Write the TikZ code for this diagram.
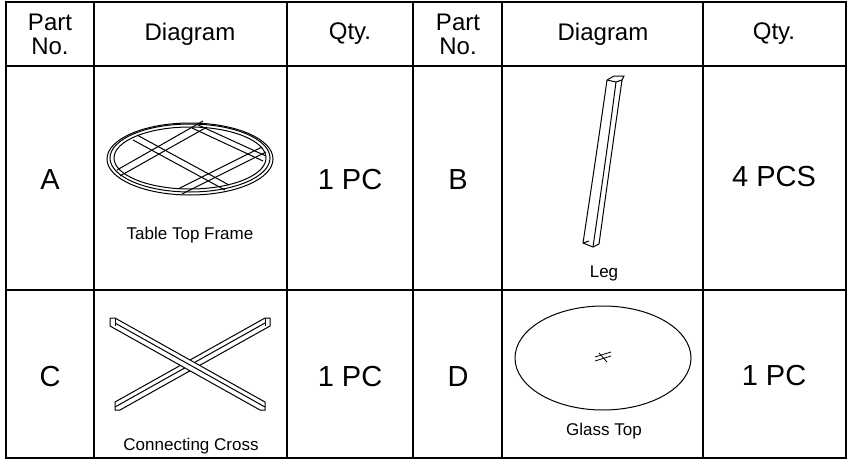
\documentclass[tikz,border=0pt]{standalone}
\usepackage{fontspec}
\setmainfont{Liberation Sans}
\begin{document}
\begin{tikzpicture}[x=1pt,y=-1pt,
  grid/.style={line width=1.6pt},
  hd/.style={font=\fontsize{24}{24}\selectfont,align=center},
  big/.style={font=\fontsize{29}{30}\selectfont},
  captxt/.style={font=\fontsize{17}{18}\selectfont},
  part/.style={line width=1pt}]
\useasboundingbox (0,0) rectangle (849,461);
\draw[grid] (6,2) rectangle (846,458);
\foreach \x in {94,287,413,502,703} \draw[grid] (\x,2) -- (\x,458);
\draw[grid] (6,66) -- (846,66);
\draw[grid] (6,290) -- (846,290);
% headers
\node[hd] (h1) at (50,34) {Part\\No.};
\node[hd] (h2) at (190,34) {Diagram};
\node[hd] (h3) at (350,34) {Qty.};
\node[hd] (h4) at (458,34) {Part\\No.};
\node[hd] (h5) at (603,34) {Diagram};
\node[hd] (h6) at (774,34) {Qty.};
% row 1
\node[big] (pa) at (50,180) {A};
\node[big] (qa) at (350,180) {1 PC};
\node[big] (pb) at (458,180) {B};
\node[big] (qb) at (774,177) {4 PCS};
\node[captxt] (ca) at (190,235) {Table Top Frame};
\node[captxt] (cb) at (604,273) {Leg};
% row 2
\node[big] (pc) at (50,377) {C};
\node[big] (qc) at (350,377) {1 PC};
\node[big] (pd) at (458,377) {D};
\node[big] (qd) at (774,376) {1 PC};
\node[captxt] (cc) at (191,446) {Connecting Cross};
\node[captxt] (cd) at (604,431) {Glass Top};
% A: frame
\draw[part] (190,159) ellipse (83 and 36);
\draw[part] (190,158) ellipse (80 and 34);
\draw[part] (190,158) ellipse (76 and 31);
% up-right bars
\draw[part] (117,170) -- (203,121);
\draw[part] (120,176) -- (207,127);
\draw[part] (178,189) -- (262,147);
\draw[part] (182,194) -- (266,152);
% down-right bars
\draw[part] (133,140) -- (225,190);
\draw[part] (137,135) -- (229,185);
\draw[part] (192,128) -- (263,161);
\draw[part] (196,124) -- (266,156);
% B: leg
\begin{scope}[part]
\draw (607,80) .. controls (597,150) .. (583,243) -- (593,247) .. controls (607,150) .. (616,82);
\draw (616,82) -- (622,80) .. controls (612,150) .. (599,244) -- (593,247);
\draw (583,243) -- (589,241);
\draw (607,80) -- (614,76) -- (624,76) -- (622,80);
\draw (616,82) -- (607,80);
\end{scope}
% C: cross
\begin{scope}[part]
\draw[fill=white] (265,318) -- (115,402) -- (115,410) -- (120,410) -- (270,326) -- (270,318) -- cycle;
\draw (265,323) -- (115,407);
\draw (265,318) -- (265,326);
\draw[fill=white] (115,318) -- (265,402) -- (265,410) -- (260,410) -- (110,326) -- (110,318) -- cycle;
\draw (115,323) -- (265,407);
\draw (115,318) -- (115,326);
\end{scope}
% D: glass
\draw[part] (603,358) ellipse (88 and 52);
\draw[line width=0.8pt] (595,361) -- (611,356);
\draw[line width=0.8pt] (595,357) -- (611,352);
\draw[line width=0.8pt] (599,353) -- (607,362);
\end{tikzpicture}
\end{document}
